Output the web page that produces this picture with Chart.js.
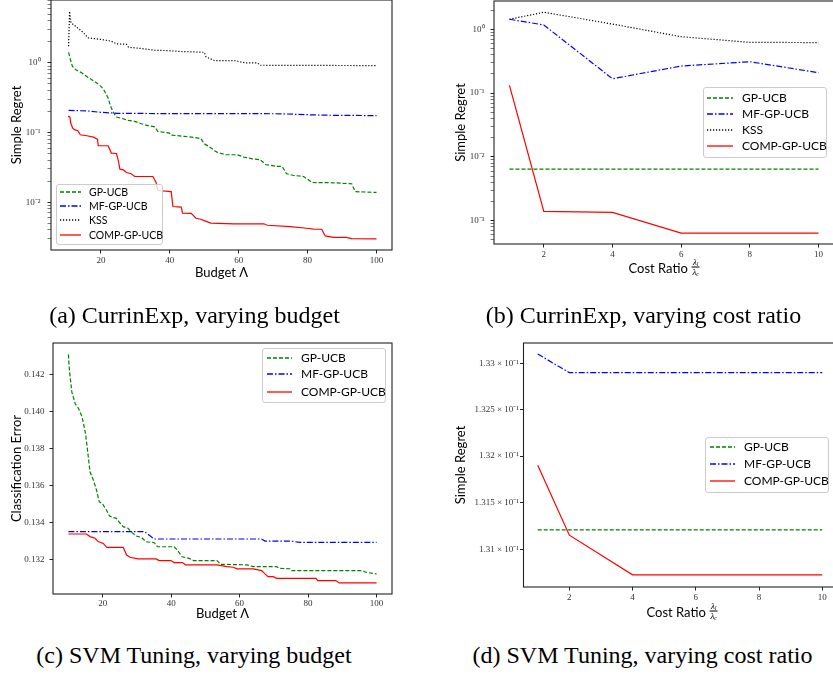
<!DOCTYPE html>
<html><head><meta charset="utf-8">
<script src="https://cdn.jsdelivr.net/npm/chart.js@4/dist/chart.umd.min.js"></script>
<style>
html,body{margin:0;padding:0;width:833px;height:676px;overflow:hidden;background:#fff;}
.cv{position:absolute;}
.cap{position:absolute;font-family:"Liberation Serif",serif;font-size:24px;color:#000;white-space:nowrap;transform:translate(-50%,-50%);}
.leg{position:absolute;border:1px solid #cccccc;border-radius:3px;background:rgba(255,255,255,0.8);font-family:Lato,sans-serif;box-sizing:border-box;color:#000;}
.leg .t{position:absolute;white-space:nowrap;transform:translateY(-50%);line-height:1;}
.leg svg{position:absolute;}
.xt{position:absolute;font-family:Lato,sans-serif;font-size:13px;white-space:nowrap;transform:translate(-50%,-50%);display:flex;align-items:center;color:#000;}
.frac{display:inline-flex;flex-direction:column;align-items:center;font-family:"Liberation Serif",serif;font-style:italic;font-size:9px;line-height:9px;margin-left:4px;}
.frac .num{border-bottom:0.8px solid #000;padding:0 1px;}
.frac sub{font-size:6px;vertical-align:-1px;line-height:0;}
</style></head><body>
<canvas id="ca" class="cv" width="420" height="285" style="left:0;top:0"></canvas>
<canvas id="cb" class="cv" width="420" height="285" style="left:420px;top:0"></canvas>
<canvas id="cc" class="cv" width="420" height="305" style="left:0;top:320px"></canvas>
<canvas id="cd" class="cv" width="420" height="305" style="left:420px;top:320px"></canvas>

<div class="xt" style="left:664px;top:267px">Cost Ratio<span class="frac"><span class="num">λ<sub>l</sub></span><span>λ<sub>c</sub></span></span></div>
<div class="xt" style="left:682px;top:611px">Cost Ratio<span class="frac"><span class="num">λ<sub>l</sub></span><span>λ<sub>c</sub></span></span></div>

<div class="cap" style="left:194.5px;top:315px">(a) CurrinExp, varying budget</div>
<div class="cap" style="left:643.5px;top:315px">(b) CurrinExp, varying cost ratio</div>
<div class="cap" style="left:194px;top:655px">(c) SVM Tuning, varying budget</div>
<div class="cap" style="left:642.5px;top:655px">(d) SVM Tuning, varying cost ratio</div>

<script>
// ===================== DATA =====================
// (a) CurrinExp, varying budget  (simple regret, log scale)
const A_GP_X = [10.6, 11, 11.7, 12.7, 14.4, 16.5, 18.8, 20, 20.7, 21.6, 22.1, 22.8, 23.6, 24.5, 26, 27.9, 29.8, 31.7, 33.6, 35.6, 36.5, 39.9, 40.4, 44.2, 47.1, 49, 50, 51.4, 53, 53.8, 56.3, 59.6, 61.5, 64, 66.3, 67.8, 71.2, 72.6, 73.9, 76, 78.8, 80.2, 81.2, 87.5, 92.8, 93.8, 100];
const A_GP_Y = [1.42, 1.18, 0.895, 0.80, 0.72, 0.61, 0.515, 0.46, 0.42, 0.35, 0.31, 0.238, 0.195, 0.167, 0.16, 0.15, 0.145, 0.134, 0.126, 0.121, 0.104, 0.098, 0.092, 0.088, 0.085, 0.082, 0.069, 0.063, 0.055, 0.052, 0.048, 0.048, 0.0445, 0.0418, 0.0407, 0.0348, 0.0326, 0.0326, 0.0256, 0.0242, 0.0234, 0.021, 0.0192, 0.019, 0.0184, 0.0142, 0.0138];
const A_MF_X = [10.6, 16.3, 20, 25, 40, 60, 72, 82, 87, 100];
const A_MF_Y = [0.208, 0.204, 0.195, 0.189, 0.187, 0.187, 0.186, 0.179, 0.177, 0.175];
const A_KSS_X = [10.6, 10.9, 11.3, 12, 14.4, 16.3, 20, 23, 24.5, 27.4, 28, 31.7, 35.6, 39.4, 43, 50, 50.5, 53, 58.8, 60.6, 62, 65.4, 66.3, 100];
const A_KSS_Y = [1.74, 5.5, 3.76, 3.56, 2.86, 2.29, 2.17, 2.05, 1.88, 1.85, 1.68, 1.61, 1.52, 1.50, 1.46, 1.42, 1.22, 1.08, 1.08, 1.03, 1.0, 1.0, 0.925, 0.915];
const A_COMP_X = [10.4, 11, 11.2, 11.8, 12.3, 13.3, 14, 15.9, 17.8, 19, 19.2, 22.1, 23, 24.5, 25, 25.5, 26.5, 27.4, 28.8, 29.8, 35.1, 36, 36.5, 40.4, 40.9, 43.3, 43.7, 46.2, 47.6, 49, 50, 51.9, 58.6, 67.3, 68.3, 75, 79.8, 81.7, 84.1, 85.1, 87.5, 91.3, 92.8, 100];
const A_COMP_Y = [0.171, 0.168, 0.137, 0.116, 0.11, 0.106, 0.093, 0.090, 0.086, 0.0805, 0.0646, 0.0646, 0.0507, 0.05, 0.0406, 0.0298, 0.0292, 0.0267, 0.0256, 0.0234, 0.0234, 0.0192, 0.0147, 0.0142, 0.00867, 0.0085, 0.00695, 0.0069, 0.00589, 0.0057, 0.00545, 0.00501, 0.0049, 0.0049, 0.00467, 0.00447, 0.00423, 0.0041, 0.00409, 0.00328, 0.00313, 0.00313, 0.003, 0.00297];

// (b) CurrinExp, varying cost ratio
const COST_RATIOS = [1, 2, 4, 6, 8, 10];
const B_GP = [0.00646, 0.00646, 0.00646, 0.00646, 0.00646, 0.00646];
const B_MF = [1.44, 1.17, 0.168, 0.266, 0.311, 0.209];
const B_KSS = [1.44, 1.85, 1.21, 0.766, 0.625, 0.62];
const B_COMP = [0.132, 0.0014, 0.00135, 0.00064, 0.00064, 0.00064];

// (c) SVM tuning, varying budget (classification error)
const C_GP_X = [10, 10.3, 11, 12, 13, 14, 15, 15.7, 16.3, 17.3, 18.2, 19, 20, 21.1, 22, 23, 24, 25, 26, 27.4, 28.4, 29.8, 31.3, 32.7, 35.1, 36, 40.9, 41.8, 43.2, 45.2, 46.6, 53.4, 54.4, 62.1, 64, 70.8, 71.7, 74.6, 75, 95.8, 96.8, 100];
const C_GP_Y = [0.1431, 0.14223, 0.14106, 0.14043, 0.14016, 0.13971, 0.13881, 0.13773, 0.13674, 0.13629, 0.13575, 0.13512, 0.13499, 0.13467, 0.13434, 0.13427, 0.13422, 0.13398, 0.13377, 0.13368, 0.13348, 0.13326, 0.13319, 0.13295, 0.1329, 0.13268, 0.13268, 0.1325, 0.13214, 0.13205, 0.13193, 0.13193, 0.13173, 0.1317, 0.1316, 0.1316, 0.13151, 0.13149, 0.13139, 0.13139, 0.1313, 0.13121];
const C_MF_X = [10, 32.2, 34.2, 35.1, 66.4, 67.4, 74.6, 75.6, 77.5, 100];
const C_MF_Y = [0.1335, 0.1335, 0.13322, 0.1331, 0.1331, 0.13299, 0.13299, 0.13297, 0.13292, 0.13292];
const C_COMP_X = [10, 15.3, 16.3, 17.8, 18.7, 20.2, 21.2, 26, 27, 28, 30.3, 35.6, 36.5, 39.9, 40.9, 43.3, 44.2, 53.4, 56.3, 58.2, 59.2, 64, 66.4, 67.4, 68.3, 69.8, 70.8, 82.3, 82.8, 88.1, 89.1, 100];
const C_COMP_Y = [0.13337, 0.13337, 0.13323, 0.13314, 0.13296, 0.13286, 0.13265, 0.13265, 0.13223, 0.13211, 0.13202, 0.13202, 0.13193, 0.13193, 0.13182, 0.13182, 0.1317, 0.1317, 0.1316, 0.13157, 0.13148, 0.13148, 0.13139, 0.13121, 0.13106, 0.13106, 0.13097, 0.13097, 0.13085, 0.13085, 0.13072, 0.13072];

// (d) SVM tuning, varying cost ratio
const D_GP = [0.131208, 0.131208, 0.131208, 0.131208, 0.131208, 0.131208];
const D_MF = [0.13310, 0.13290, 0.13290, 0.13290, 0.13290, 0.13290];
const D_COMP = [0.13190, 0.131152, 0.13073, 0.13073, 0.13073, 0.13073];

// tick labels
const BUDGET_TICKS = [20, 40, 60, 80, 100];
const RATIO_TICKS = [2, 4, 6, 8, 10];
const C_YTICKS = [0.132, 0.134, 0.136, 0.138, 0.140, 0.142];
const D_YTICKS = [0.1310, 0.1315, 0.1320, 0.1325, 0.1330];
const D_YTICK_LABELS = ['1.31 × 10⁻¹', '1.315 × 10⁻¹', '1.32 × 10⁻¹', '1.325 × 10⁻¹', '1.33 × 10⁻¹'];
const DECADE_LABELS = {'-3': '10⁻³', '-2': '10⁻²', '-1': '10⁻¹', '0': '10⁰'};
const SERIES4 = ['GP-UCB', 'MF-GP-UCB', 'KSS', 'COMP-GP-UCB'];
const SERIES3 = ['GP-UCB', 'MF-GP-UCB', 'COMP-GP-UCB'];

// ===================== STYLE =====================
const STYLE = {
  'GP-UCB': {color: '#008000', dash: [4, 2], order: 3},
  'MF-GP-UCB': {color: '#0000ff', dash: [6, 2, 1.5, 2], order: 2},
  'KSS': {color: '#000000', dash: [1.2, 1.8], order: 1},
  'COMP-GP-UCB': {color: '#ff0000', dash: [], order: 0}
};
const LW = 1.2;
const tickFont = {family: '"Liberation Serif", serif', size: 9};
const titleFont = {family: 'Lato, sans-serif', size: 13};

function ds(label, xs, ys) {
  const st = STYLE[label];
  return {label, data: xs.map((x, i) => ({x: x, y: ys[i]})), borderColor: st.color, borderDash: st.dash,
    borderWidth: LW, pointRadius: 0, fill: false, tension: 0, order: st.order};
}
function isDecade(v) { const e = Math.log10(v); return Math.abs(e - Math.round(e)) < 1e-6; }
function logTickValues(min, max) {
  const out = [];
  for (let e = Math.floor(Math.log10(min)); e <= Math.ceil(Math.log10(max)); e++) {
    for (let m = 1; m <= 9; m++) { const v = m * Math.pow(10, e); if (v >= min && v <= max) out.push(v); }
  }
  return out;
}
const gridOpts = {drawOnChartArea: false, drawTicks: true, tickLength: 3.5, tickColor: '#222', tickWidth: 1};

function xScale(ticks, min, max, height, title, pad) {
  return {
    type: 'linear', min, max,
    afterBuildTicks: s => { s.ticks = ticks.map(v => ({value: v})); },
    ticks: {font: tickFont, color: '#333', padding: pad, autoSkip: false, maxRotation: 0, callback: v => String(v)},
    grid: gridOpts, border: {display: false},
    title: title ? {display: true, text: title, font: titleFont, color: '#000', padding: 0} : {display: false},
    afterFit: s => { s.height = height; s.paddingLeft = 0; s.paddingRight = 0; }
  };
}
function logY(min, max, width, title, pad, tickVals, labelFn) {
  return {
    type: 'logarithmic', min, max,
    afterBuildTicks: s => { s.ticks = (tickVals || logTickValues(min, max)).map(v => ({value: v})); },
    ticks: {font: tickFont, color: '#333', padding: pad, autoSkip: false, callback: labelFn},
    grid: Object.assign({}, gridOpts, {tickWidth: c => (c.tick && !tickVals && !isDecade(c.tick.value)) ? 0.6 : 1}),
    border: {display: false},
    title: {display: true, text: title, font: titleFont, color: '#000', padding: 0},
    afterFit: s => { s.width = width; s.paddingTop = 0; s.paddingBottom = 0; }
  };
}
function linY(min, max, width, title, pad, tickVals) {
  return {
    type: 'linear', min, max,
    afterBuildTicks: s => { s.ticks = tickVals.map(v => ({value: v})); },
    ticks: {font: tickFont, color: '#333', padding: pad, autoSkip: false, callback: v => v.toFixed(3)},
    grid: gridOpts, border: {display: false},
    title: {display: true, text: title, font: titleFont, color: '#000', padding: 0},
    afterFit: s => { s.width = width; s.paddingTop = 0; s.paddingBottom = 0; }
  };
}
const framePlugin = {
  id: 'frame',
  afterDraw(chart) {
    const {ctx, chartArea: a} = chart;
    ctx.save(); ctx.strokeStyle = '#222'; ctx.lineWidth = 1.1; ctx.setLineDash([]);
    ctx.strokeRect(a.left, a.top, a.right - a.left, a.bottom - a.top);
    ctx.restore();
  }
};
function make(id, datasets, scales, padding) {
  return new Chart(document.getElementById(id), {
    type: 'line',
    data: {datasets},
    options: {
      responsive: false, animation: false, devicePixelRatio: 1,
      layout: {padding},
      plugins: {legend: {display: false}, tooltip: {enabled: false}},
      scales
    },
    plugins: [framePlugin]
  });
}
const decadeLabel = v => isDecade(v) ? DECADE_LABELS[String(Math.round(Math.log10(v)))] || '' : '';

// (a)
make('ca', [
  ds('GP-UCB', A_GP_X, A_GP_Y), ds('MF-GP-UCB', A_MF_X, A_MF_Y),
  ds('KSS', A_KSS_X, A_KSS_Y), ds('COMP-GP-UCB', A_COMP_X, A_COMP_Y)
], {
  x: xScale(BUDGET_TICKS, 5.5, 104.5, 30.5, 'Budget Λ', 2),
  y: logY(0.00206, 8.0, 42, 'Simple Regret', 7, null, decadeLabel)
}, {left: 9, top: 0, right: 28, bottom: 4.5});

// (b)
make('cb', [
  ds('GP-UCB', COST_RATIOS, B_GP), ds('MF-GP-UCB', COST_RATIOS, B_MF),
  ds('KSS', COST_RATIOS, B_KSS), ds('COMP-GP-UCB', COST_RATIOS, B_COMP)
], {
  x: xScale(RATIO_TICKS, 0.55, 10.45, 41, null, 1.5),
  y: logY(0.000432, 2.78, 41, 'Simple Regret', 6, null, decadeLabel)
}, {left: 33, top: 1, right: 6, bottom: 0});

// (c)
make('cc', [
  ds('GP-UCB', C_GP_X, C_GP_Y), ds('MF-GP-UCB', C_MF_X, C_MF_Y), ds('COMP-GP-UCB', C_COMP_X, C_COMP_Y)
], {
  x: xScale(BUDGET_TICKS, 5.5, 104.5, 27.8, 'Budget Λ', 1),
  y: linY(0.13012, 0.14372, 44, 'Classification Error', 5, C_YTICKS)
}, {left: 9, top: 23, right: 28, bottom: 3.2});

// (d)
make('cd', [
  ds('GP-UCB', COST_RATIOS, D_GP), ds('MF-GP-UCB', COST_RATIOS, D_MF), ds('COMP-GP-UCB', COST_RATIOS, D_COMP)
], {
  x: xScale(RATIO_TICKS, 0.55, 10.45, 38, null, 1.5),
  y: logY(0.13061, 0.13322, 70.5, 'Simple Regret', 1, D_YTICKS, (v, i) => D_YTICK_LABELS[i])
}, {left: 33, top: 23, right: 3.5, bottom: 0});

// ===================== LEGENDS (HTML) =====================
function legend(box, series) {
  const d = document.createElement('div');
  d.className = 'leg';
  d.style.cssText = `left:${box.left}px;top:${box.top}px;width:${box.w}px;height:${box.h}px;font-size:${box.fs}px;`;
  series.forEach((name, i) => {
    const st = STYLE[name];
    const ry = box.rows[i];
    const len = box.s1 - box.s0;
    d.insertAdjacentHTML('beforeend',
      `<svg width="${len}" height="4" style="left:${box.s0 - 1}px;top:${ry - 3}px"><line x1="0" y1="2" x2="${len}" y2="2" stroke="${st.color}" stroke-width="1.3" stroke-dasharray="${st.dash.length ? st.dash.join(' ') : 'none'}"/></svg>` +
      `<span class="t" style="left:${box.tx - 1}px;top:${ry - 1}px">${name}</span>`);
  });
  document.body.appendChild(d);
}
legend({left: 56, top: 184, w: 107, h: 61, fs: 10.5, rows: [8, 22, 36, 51], s0: 4, s1: 25, tx: 33}, SERIES4);
legend({left: 703, top: 87, w: 124, h: 71, fs: 12, rows: [10.5, 26.7, 43, 59], s0: 4, s1: 30, tx: 39}, SERIES4);
legend({left: 262, top: 348, w: 124, h: 55, fs: 12, rows: [9.7, 26.3, 43.7], s0: 4.7, s1: 29.7, tx: 39}, SERIES3);
legend({left: 705, top: 437, w: 124, h: 56, fs: 12, rows: [9.7, 27, 44], s0: 5, s1: 30, tx: 39}, SERIES3);
</script>
</body></html>
